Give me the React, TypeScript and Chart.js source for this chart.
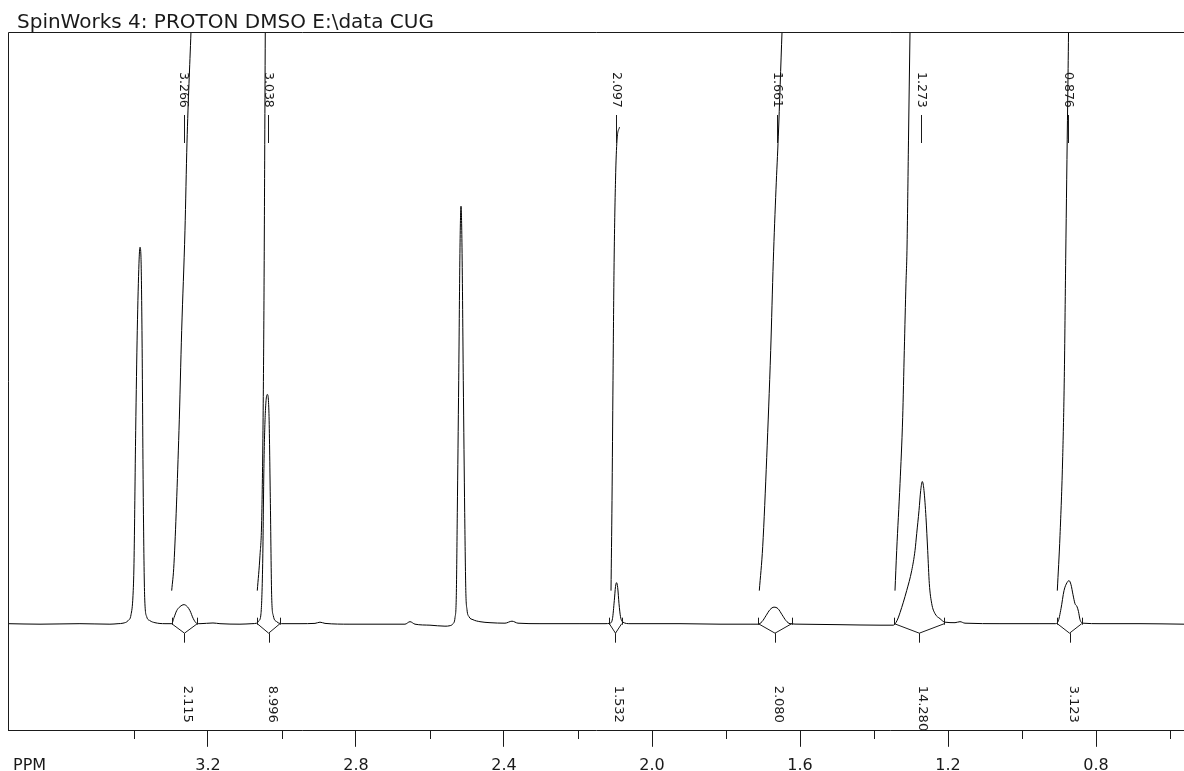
import React, { useEffect, useRef } from 'react';
import { Chart, registerables } from 'chart.js';

Chart.register(...registerables);

const titleText = 'SpinWorks 4: PROTON DMSO E:\\data CUG';
const axisName = 'PPM';

// x range (ppm, reversed) and y range (relative intensity)
const ppmLeft = 3.7405;
const ppmRight = 0.5622;
const intensityMin = -107;
const intensityMax = 591;

const majorTicks = [3.2, 2.8, 2.4, 2.0, 1.6, 1.2, 0.8];
const minorTicks = [3.4, 3.0, 2.6, 2.2, 1.8, 1.4, 1.0, 0.6];

const spectrumPpm = [
  3.7405, 3.654, 3.546, 3.465, 3.443, 3.4297, 3.4162, 3.408, 3.4027, 3.4,
  3.3954, 3.3911, 3.3865, 3.3838, 3.3811, 3.3784, 3.3749, 3.3711, 3.3657, 3.3568,
  3.3433, 3.3162, 3.2981, 3.2919, 3.2846, 3.2757, 3.2649, 3.2559, 3.2487, 3.2397,
  3.2311, 3.2216, 3.1865, 3.1676, 3.1135, 3.0811, 3.0684, 3.0622, 3.0568, 3.0522,
  3.0487, 3.0451, 3.0397, 3.0352, 3.0316, 3.0278, 3.0235, 3.0143, 2.9973, 2.9513,
  2.9108, 2.8973, 2.8838, 2.8162, 2.7351, 2.6676, 2.654, 2.6405, 2.6, 2.5595,
  2.5459, 2.5378, 2.5324, 2.5289, 2.5262, 2.5224, 2.5189, 2.5162, 2.5135, 2.51,
  2.5062, 2.5032, 2.5, 2.4946, 2.4838, 2.4649, 2.4378, 2.3973, 2.3784, 2.3622,
  2.3027, 2.1946, 2.127, 2.1135, 2.1068, 2.1019, 2.0986, 2.0959, 2.0927, 2.0892,
  2.0851, 2.0784, 2.0595, 1.9243, 1.8162, 1.7351, 1.7135, 1.7027, 1.6919, 1.6811,
  1.6703, 1.6595, 1.6486, 1.6378, 1.627, 1.6, 1.4919, 1.3838, 1.3479, 1.3379,
  1.3297, 1.3117, 1.2981, 1.2892, 1.2846, 1.2784, 1.2738, 1.2695, 1.2649, 1.2595,
  1.2549, 1.2505, 1.244, 1.2351, 1.2216, 1.2081, 1.1811, 1.1676, 1.1541, 1.0595,
  0.9514, 0.9108, 0.9027, 0.8946, 0.8865, 0.8784, 0.873, 0.8676, 0.8622, 0.8568,
  0.8513, 0.8473, 0.8432, 0.8351, 0.7892, 0.6811, 0.5622,
];

const spectrumIntensity = [
  0, -0.5, 0, -0.5, 0, 0.5, 3, 9, 28, 60,
  193, 293, 360, 376, 366, 293, 126, 26, 7, 3,
  1, 0, 0, 6, 13, 17, 19, 17, 13, 5,
  0.5, 0, 0.7, 0, -0.5, 0, 0.5, 3, 10, 60,
  160, 210, 229, 210, 126, 26, 8, 2, 0, 0,
  0.3, 1.5, 0.3, -0.5, -0.5, -0.5, 2, -0.5, -1.5, -2.5,
  -2, 0, 6, 28, 111, 243, 376, 417, 376, 243,
  111, 33, 14, 7, 4, 2, 1, 0.5, 2.5, 0.5,
  0, 0, 0, 0.5, 5, 23, 37, 41, 36, 20,
  7, 1.5, 0, 0, -0.5, -0.5, -0.5, 2, 8, 14,
  16.5, 15, 9, 3, 0, -0.5, -1, -1.5, -1.5, 3,
  11, 33, 53, 73, 90, 113, 133, 142, 133, 106,
  73, 40, 20, 10, 5, 1.5, 1, 2, 0.5, 0,
  0, 0, 2, 15, 33, 41, 43, 39, 29, 20,
  17, 12, 4, 0.5, 0, 0, -0.5,
];

// integral curves (ppm, cumulative height)
const integralCurvesPpm = [
  [3.2981, 3.2919, 3.2784, 3.2711, 3.2622, 3.2568, 3.246, 3.2405],
  [3.0668, 3.0595, 3.0549, 3.0514, 3.0487, 3.0468, 3.0452, 3.0444],
  [2.1108, 2.1081, 2.1054, 2.1027, 2.0986, 2.0946, 2.0878],
  [1.71, 1.7008, 1.69, 1.6792, 1.6722, 1.6649, 1.6586, 1.6486, 1.6432],
  [1.3433, 1.3387, 1.3297, 1.3225, 1.3181, 1.3136, 1.3109, 1.3068, 1.3027, 1.3],
  [0.9046, 0.8973, 0.89, 0.8857, 0.8819, 0.8792, 0.8765, 0.8743, 0.873],
];
const integralCurvesHeight = [
  [33, 60, 193, 293, 393, 480, 591, 648],
  [33, 68, 103, 193, 323, 463, 591, 663],
  [33, 123, 243, 353, 443, 483, 496],
  [33, 77, 166, 273, 362, 434, 487, 591, 643],
  [33, 73, 140, 206, 273, 340, 373, 483, 591, 663],
  [33, 88, 167, 246, 365, 444, 523, 591, 653],
];

const peakLabels = [3.266, 3.038, 2.097, 1.661, 1.273, 0.876];

const integralStarts = [3.2981, 3.0668, 2.1154, 1.7127, 1.3451, 0.9046];
const integralEnds = [3.2289, 3.0054, 2.0819, 1.6224, 1.21, 0.8386];
const integralValues = [2.115, 8.996, 1.532, 2.08, 14.28, 3.123];

const FONT = '"DejaVu Sans", Verdana, sans-serif';
const INK = '#1a1a1a';
const TICK_LEN = 16;
const TICK_PAD = 9;

const nmrDecor = {
  id: 'nmrDecor',
  afterDraw(chart: any) {
    const ctx = chart.ctx;
    const xs = chart.scales.x;
    const ys = chart.scales.y;
    const ca = chart.chartArea;
    ctx.save();
    ctx.strokeStyle = INK;
    ctx.fillStyle = INK;
    ctx.lineWidth = 1;

    // frame: left and top edges
    const L = Math.round(ca.left) + 0.5;
    const T = Math.round(ca.top) + 0.5;
    ctx.beginPath();
    ctx.moveTo(L, Math.round(ca.bottom));
    ctx.lineTo(L, T);
    ctx.lineTo(ca.right + 2, T);
    ctx.stroke();

    // minor ticks
    const B = Math.round(ca.bottom);
    ctx.beginPath();
    minorTicks.forEach((v) => {
      const px = Math.round(xs.getPixelForValue(v)) + 0.5;
      ctx.moveTo(px, B);
      ctx.lineTo(px, B + 8);
    });
    ctx.stroke();

    // title
    ctx.font = `20px ${FONT}`;
    ctx.textAlign = 'left';
    ctx.textBaseline = 'alphabetic';
    ctx.fillText(titleText, 17, 28);

    // axis name, on the tick-label line
    ctx.font = `16px ${FONT}`;
    ctx.textBaseline = 'middle';
    ctx.fillText(axisName, 13, B + TICK_LEN + TICK_PAD + 9.6);

    // peak labels
    peakLabels.forEach((p) => {
      const px = xs.getPixelForValue(p);
      const lx = Math.round(px) + 0.5;
      ctx.beginPath();
      ctx.moveTo(lx, ca.top + 83);
      ctx.lineTo(lx, ca.top + 111);
      ctx.stroke();
      ctx.save();
      ctx.translate(px, ca.top + 40);
      ctx.rotate(Math.PI / 2);
      ctx.font = `12.5px ${FONT}`;
      ctx.textAlign = 'left';
      ctx.textBaseline = 'middle';
      ctx.fillText(p.toFixed(3), 0, 0);
      ctx.restore();
    });

    // integral region markers and values
    const base = ys.getPixelForValue(0);
    integralStarts.forEach((s, i) => {
      const e = integralEnds[i];
      const x1 = xs.getPixelForValue(s);
      const x2 = xs.getPixelForValue(e);
      const xm = (x1 + x2) / 2;
      ctx.beginPath();
      ctx.moveTo(x1, base);
      ctx.lineTo(xm, base + 9.5);
      ctx.lineTo(x2, base);
      ctx.moveTo(Math.round(x1) + 0.5, base - 6);
      ctx.lineTo(Math.round(x1) + 0.5, base + 1);
      ctx.moveTo(Math.round(x2) + 0.5, base - 6);
      ctx.lineTo(Math.round(x2) + 0.5, base + 1);
      ctx.moveTo(Math.round(xm) + 0.5, base + 9.5);
      ctx.lineTo(Math.round(xm) + 0.5, base + 19);
      ctx.stroke();
      ctx.save();
      ctx.translate(xm, base + 62);
      ctx.rotate(Math.PI / 2);
      ctx.font = `13px ${FONT}`;
      ctx.textAlign = 'left';
      ctx.textBaseline = 'alphabetic';
      ctx.fillText(integralValues[i].toFixed(3), 0, 0);
      ctx.restore();
    });
    ctx.restore();
  },
};

export default function App() {
  const ref = useRef<HTMLCanvasElement | null>(null);
  useEffect(() => {
    if (!ref.current) return;
    const lineStyle = {
      borderColor: '#000',
      borderWidth: 1,
      pointRadius: 0,
      fill: false,
      cubicInterpolationMode: 'monotone' as const,
    };
    const datasets: any[] = [
      {
        label: 'spectrum',
        data: spectrumPpm.map((p, i) => ({ x: p, y: spectrumIntensity[i] })),
        ...lineStyle,
      },
      ...integralCurvesPpm.map((arr, k) => ({
        label: 'integral ' + (k + 1),
        data: arr.map((p, i) => ({ x: p, y: integralCurvesHeight[k][i] })),
        ...lineStyle,
      })),
    ];
    const chart = new Chart(ref.current, {
      type: 'line',
      data: { datasets },
      plugins: [nmrDecor],
      options: {
        animation: false,
        responsive: false,
        devicePixelRatio: 1,
        events: [],
        layout: { padding: { left: 8, top: 32, right: 0, bottom: -13 } },
        plugins: {
          legend: { display: false },
          tooltip: { enabled: false },
          title: { display: false },
        },
        scales: {
          x: {
            type: 'linear',
            reverse: true,
            min: ppmRight,
            max: ppmLeft,
            afterBuildTicks: (scale: any) => {
              scale.ticks = majorTicks.map((v) => ({ value: v }));
            },
            grid: {
              drawOnChartArea: false,
              drawTicks: true,
              tickLength: TICK_LEN,
              color: INK,
            },
            border: { display: true, color: INK, width: 1 },
            ticks: {
              autoSkip: false,
              maxRotation: 0,
              padding: TICK_PAD,
              color: INK,
              font: { family: FONT, size: 16 },
              callback: (v: any) => Number(v).toFixed(1),
            },
          },
          y: {
            type: 'linear',
            display: false,
            min: intensityMin,
            max: intensityMax,
          },
        },
      },
    });
    return () => chart.destroy();
  }, []);
  return (
    <canvas
      ref={ref}
      width={1184}
      height={771}
      style={{ position: 'absolute', left: 0, top: 0, width: 1184, height: 771 }}
    />
  );
}
